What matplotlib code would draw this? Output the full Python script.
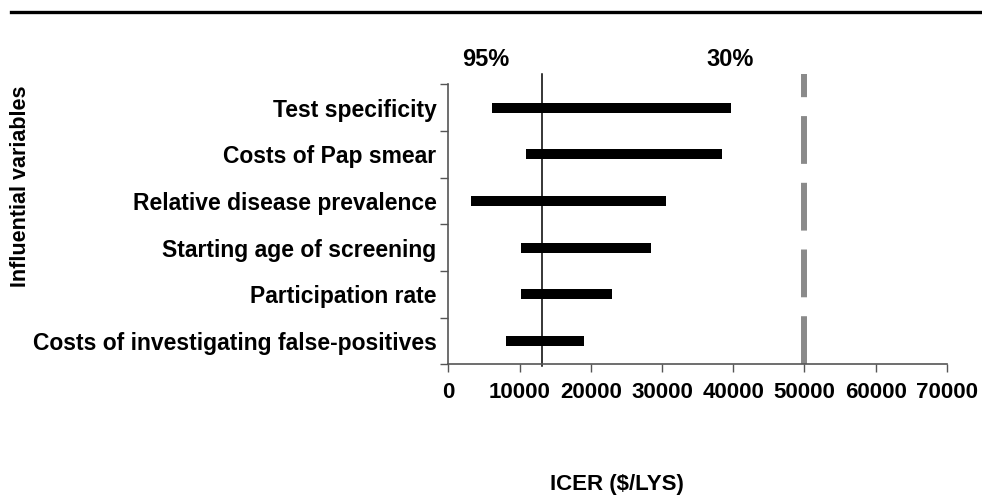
import matplotlib
matplotlib.use("Agg")
import matplotlib.pyplot as plt
from matplotlib.lines import Line2D
import matplotlib.transforms as mtransforms

plt.rcParams['font.family'] = ['Liberation Sans', 'DejaVu Sans']
plt.rcParams['font.weight'] = 'bold'

variables = ["Test specificity", "Costs of Pap smear", "Relative disease prevalence",
             "Starting age of screening", "Participation rate",
             "Costs of investigating false-positives"]
low = [6100, 10900, 3200, 10200, 10200, 8100]
high = [39700, 38400, 30600, 28400, 23000, 19100]
base_icer = 13200
threshold = 50000
pct_labels = ["95%", "30%"]
pct_x = [5300, 39550]
xticks = [0, 10000, 20000, 30000, 40000, 50000, 60000, 70000]

fig = plt.figure(figsize=(9.82, 4.95), dpi=100)
ax = fig.add_axes([0.4565, 0.2640, 0.5078, 0.5655])

ypos = list(range(len(variables)))
widths = [h - l for l, h in zip(low, high)]
ax.barh(ypos, widths, left=low, height=0.214, color="black")

trans = mtransforms.blended_transform_factory(ax.transData, ax.transAxes)
ax.plot([base_icer, base_icer], [-0.006, 1.037], color="black", lw=1.1,
        transform=trans, clip_on=False)
ax.plot([threshold, threshold], [0, 1.037], color="#8a8a8a", lw=4.3,
        linestyle=(0, (8, 3.17)), transform=trans, clip_on=False,
        solid_capstyle="butt", dash_capstyle="butt")

for lab, x in zip(pct_labels, pct_x):
    ax.text(x, 1.066, lab, transform=trans, ha="center", va="baseline",
            fontsize=17, fontweight="bold")

ax.set_xlim(0, 70000)
ax.set_ylim(5.5, -0.5)
ax.set_xticks(xticks)
ax.set_xticklabels([str(v) for v in xticks], fontsize=16, fontweight="bold")
ax.set_yticks(ypos)
ax.set_yticklabels(variables, fontsize=16.5, fontweight="bold")
ax.set_yticks([i - 0.5 for i in range(len(variables) + 1)], minor=True)
ax.tick_params(axis="y", which="major", length=0, pad=8.4)
ax.tick_params(axis="y", which="minor", length=5.8, width=1.0, color="#555555", direction="out")
ax.tick_params(axis="x", length=5.8, width=1.0, color="#555555", direction="out", pad=7)

for side in ["top", "right"]:
    ax.spines[side].set_visible(False)
for side in ["left", "bottom"]:
    ax.spines[side].set_color("#555555")
    ax.spines[side].set_linewidth(1.2)

fig.text(21 / 982, 1 - 186.5 / 495, "Influential variables", rotation=90,
         ha="center", va="center", fontsize=15.5, fontweight="bold")
fig.text(617 / 982, 1 - 490 / 495, "ICER ($/LYS)", ha="center", va="baseline",
         fontsize=16, fontweight="bold")

fig.add_artist(Line2D([10.7 / 982, 1.0], [1 - 11.7 / 495, 1 - 11.7 / 495],
                      color="black", lw=2.4, transform=fig.transFigure))

fig.savefig("out.png", dpi=100)
